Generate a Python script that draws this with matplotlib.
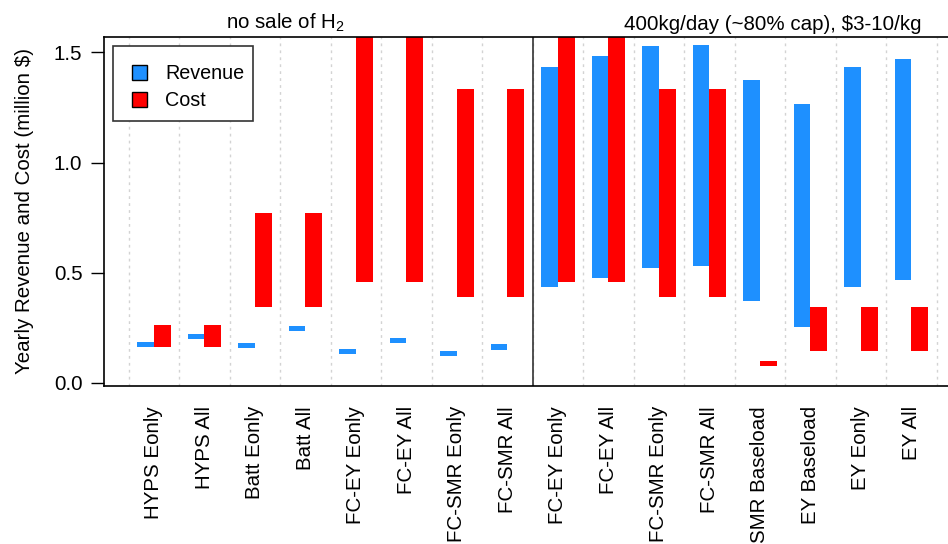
import matplotlib
matplotlib.use("Agg")
import matplotlib.pyplot as plt
import numpy as np
from matplotlib.patches import Patch, Rectangle
from matplotlib.legend_handler import HandlerPatch

plt.rcParams['font.family'] = ['Liberation Sans', 'DejaVu Sans']
plt.rcParams['mathtext.fontset'] = 'custom'
plt.rcParams['mathtext.rm'] = 'Liberation Sans'
plt.rcParams['mathtext.default'] = 'regular'

# Scenarios: first 8 with no H2 sale, last 8 with 400kg/day at $3-10/kg
categories = ["HYPS Eonly", "HYPS All", "Batt Eonly", "Batt All",
              "FC-EY Eonly", "FC-EY All", "FC-SMR Eonly", "FC-SMR All",
              "FC-EY Eonly", "FC-EY All", "FC-SMR Eonly", "FC-SMR All",
              "SMR Baseload", "EY Baseload", "EY Eonly", "EY All"]

# Revenue range (million $/yr)
rev_low = [0.164, 0.197, 0.159, 0.235, 0.130, 0.179, 0.120, 0.149,
           0.434, 0.476, 0.520, 0.529, 0.370, 0.255, 0.434, 0.465]
rev_high = [0.186, 0.220, 0.182, 0.258, 0.152, 0.202, 0.143, 0.176,
            1.436, 1.485, 1.529, 1.534, 1.375, 1.265, 1.436, 1.471]

# Cost range (million $/yr)
cost_low = [0.164, 0.164, 0.343, 0.343, 0.456, 0.456, 0.390, 0.390,
            0.456, 0.456, 0.390, 0.390, 0.077, 0.144, 0.144, 0.144]
cost_high = [0.262, 0.262, 0.770, 0.770, 1.75, 1.75, 1.334, 1.334,
             1.75, 1.75, 1.334, 1.334, 0.100, 0.344, 0.344, 0.344]

blue = "#1E90FF"
red = "#FF0000"
w = 0.33
fs = 14.8


def square_handle(legend, orig_handle, xdescent, ydescent, width, height, fontsize):
    # small square centred vertically in the handle box
    s = 10.5
    return Rectangle((-xdescent + width - s, -ydescent + (height - s) / 2), s, s)


fig = plt.figure(figsize=(9.48, 5.44), dpi=100)
ax = fig.add_axes([104 / 948, 158 / 544, (962 - 104) / 948, (386 - 37) / 544])

x = np.arange(1, len(categories) + 1)
rev_low = np.array(rev_low)
rev_high = np.array(rev_high)
cost_low = np.array(cost_low)
cost_high = np.array(cost_high)

for g in np.arange(0.5, 17, 1.0):
    ax.axvline(g, color="#d3d3d3", lw=1, ls=(0, (2, 3)), zorder=0)
ax.axvline(8.5, color="#333333", lw=1.2, zorder=1)

ax.bar(x - w / 2, rev_high - rev_low, bottom=rev_low, width=w, color=blue, zorder=2)
ax.bar(x + w / 2, cost_high - cost_low, bottom=cost_low, width=w, color=red, zorder=2)

ax.set_xlim(0.01, 17.0)
ax.set_ylim(-0.015, 1.57)
ax.set_yticks([0.0, 0.5, 1.0, 1.5])
ax.set_yticklabels(["0.0", "0.5", "1.0", "1.5"])
ax.set_xticks(x)
ax.set_xticklabels(categories, rotation=90, va="top", ha="center")
ax.tick_params(axis="x", length=0, pad=14.5, labelsize=fs)
ax.tick_params(axis="y", length=9.5, width=1, pad=6, labelsize=fs)
ax.set_ylabel("Yearly Revenue and Cost (million $)", fontsize=fs, labelpad=14)

for s in ax.spines.values():
    s.set_linewidth(1.2)

ax.text(3.6, 1.585, r"no sale of H$_2$", ha="center", va="bottom", fontsize=fs)
ax.text(13.25, 1.585, "400kg/day (~80% cap), $3-10/kg", ha="center", va="bottom",
        fontsize=fs)

# legend: entries without frame, box drawn separately
ax.add_patch(Rectangle((0.0105, 0.759), 0.163, 0.215, transform=ax.transAxes,
                       facecolor="white", edgecolor="#333333", lw=1.2, zorder=4))
handles = [Patch(facecolor=blue, edgecolor="black"),
           Patch(facecolor=red, edgecolor="black")]
hmap = {h: HandlerPatch(patch_func=square_handle) for h in handles}
leg = ax.legend(handles, ["Revenue", "Cost"], loc="upper left",
                bbox_to_anchor=(0.0326, 0.928), frameon=False,
                fontsize=14.2, handlelength=0.74, handleheight=1.23,
                handletextpad=0.96, borderpad=0, labelspacing=0.3,
                borderaxespad=0, handler_map=hmap)
leg.set_zorder(5)

fig.savefig("out.png", dpi=100)
